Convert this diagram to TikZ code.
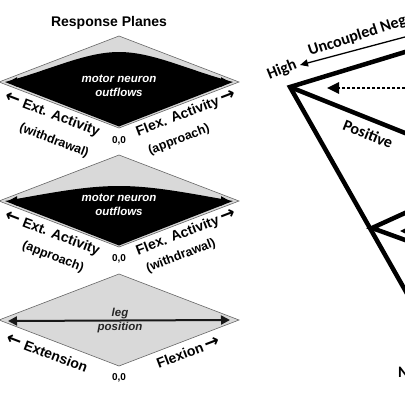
\documentclass[tikz,border=0pt]{standalone}
\usepackage{fontspec}
\setmainfont{Liberation Sans}
\newfontfamily\calib{Carlito}
\newfontfamily\arrowfont{DejaVu Sans}
\usetikzlibrary{arrows.meta}
\definecolor{planegray}{HTML}{D9D9D9}
\newcommand{\planeleft}{{\arrowfont\bfseries\fontsize{18}{14}\selectfont ←}}
\newcommand{\planeright}{{\arrowfont\bfseries\fontsize{18}{14}\selectfont →}}
\tikzset{
    plane/.style = {fill=planegray, draw=black!60, line width=0.6pt},
    axislbl/.style = {font=\bfseries\fontsize{14}{14}\selectfont, inner sep=0pt},
    sublbl/.style = {font=\bfseries\fontsize{12.5}{12.5}\selectfont, inner sep=0pt},
    origin/.style = {font=\bfseries\fontsize{10}{10}\selectfont, inner sep=0pt},
    inlbl/.style = {font=\bfseries\itshape\fontsize{11.5}{14}\selectfont, align=center, inner sep=0pt},
    bothway/.style = {line width=2pt, {Triangle[length=9pt,width=9pt]}-{Triangle[length=9pt,width=9pt]}},
    thickline/.style = {line width=4.5pt, line join=miter},
    thinarrow/.style = {line width=1.3pt, -{Triangle[length=8pt,width=7pt]}},
    dotarrow/.style = {line width=2.6pt, dash pattern=on 2.6pt off 2.4pt, -{Triangle[length=12pt,width=11pt]}},
    rlbl/.style = {font=\calib\bfseries\fontsize{16}{16}\selectfont, inner sep=0pt}
}

\begin{document}
\begin{tikzpicture}[x=1pt, y=-1pt]
    \useasboundingbox (0,0) rectangle (405,405);
    \clip (0,0) rectangle (405,405);

    \node[font=\bfseries\fontsize{14}{14}\selectfont] (title) at (109,23) {Response Planes};

    % the three planes
    \foreach \i/\y in {1/82, 2/201, 3/320} {
        \coordinate (l\i) at (-1,\y);
        \coordinate (r\i) at (239,\y);
        \coordinate (t\i) at (119,\y-46);
        \coordinate (b\i) at (119,\y+46);
        \draw[plane] (l\i) -- (t\i) -- (r\i) -- (b\i) -- cycle;
    }

    % motor neuron outflows
    \fill (5,82) .. controls (50,70) and (85,52) .. (119,52)
        .. controls (153,52) and (188,70) .. (233,82) -- (119,126.5) -- cycle;
    \fill (5,201) .. controls (50,193) and (85,186) .. (119,186)
        .. controls (153,186) and (188,193) .. (233,201) -- (119,245.5) -- cycle;
    \coordinate (a1) at (8,82);
    \coordinate (c1) at (230,82);
    \coordinate (a2) at (8,201);
    \coordinate (c2) at (230,201);
    \coordinate (a3) at (8,321);
    \coordinate (c3) at (230,320);
    \draw[bothway] (a1) -- (c1);
    \draw[bothway] (a2) -- (c2);
    \draw[bothway, black!90] (a3) -- (c3);

    \node[inlbl, text=white] (mn1) at (119,86) {motor neuron\\outflows};
    \node[inlbl, text=white] (mn2) at (119,205) {motor neuron\\outflows};
    \node[inlbl, text=black!85] (leg) at (120,321) {leg\\position};

    % axis labels
    \node[axislbl, rotate=-21] (ext1) at (52,115) {\planeleft\ Ext. Activity};
    \node[sublbl, rotate=-21] (wd1) at (54,141) {(withdrawal)};
    \node[axislbl, rotate=21] (flx1) at (186,114) {Flex. Activity\,\planeright};
    \node[sublbl, rotate=21] (ap1) at (179,140) {(approach)};
    \node[origin] (o1) at (119,141) {0,0};

    \node[axislbl, rotate=-21] (ext2) at (52,234) {\planeleft\ Ext. Activity};
    \node[sublbl, rotate=-21] (ap2) at (53,257) {(approach)};
    \node[axislbl, rotate=21] (flx2) at (186,233) {Flex. Activity\,\planeright};
    \node[sublbl, rotate=21] (wd2) at (181,256) {(withdrawal)};
    \node[origin] (o2) at (119,259) {0,0};

    \node[axislbl, rotate=-21] (ext3) at (47,353) {\planeleft\ Extension};
    \node[axislbl, rotate=21] (flx3) at (188,352) {Flexion\,\planeright};
    \node[origin] (o3) at (119,378) {0,0};

    % right panel
    \coordinate (hi) at (290,87);
    \coordinate (lo) at (372,228);
    \coordinate (up) at (430,44.4);
    \coordinate (pos) at (430,143);
    \coordinate (dn) at (420,316.5);
    \coordinate (lu) at (430,201.6);
    \coordinate (ld) at (430,249);
    \draw[thickline] (up) -- (hi) -- (dn);
    \draw[thickline] (hi) -- (pos);
    \draw[thickline] (lu) -- (lo) -- (ld);

    \coordinate (un) at (430,30.3);
    \coordinate (untip) at (300,65);
    \draw[thinarrow] (un) -- (untip);
    \coordinate (dt1) at (430,88);
    \coordinate (dtip1) at (327,88);
    \draw[dotarrow] (dt1) -- (dtip1);
    \coordinate (dt2) at (440,231);
    \coordinate (dtip2) at (400,231);
    \draw[dotarrow] (dt2) -- (dtip2);

    \node[rlbl, rotate=22] (high) at (282,70) {High};
    \node[rlbl, rotate=18, anchor=base west] (uncp) at (310,56) {Uncoupled Neg};
    \node[rlbl, rotate=-22] (posl) at (368,134) {Positive};
    \node[rlbl, anchor=west] (nlbl) at (398,372) {N};
\end{tikzpicture}
\end{document}
